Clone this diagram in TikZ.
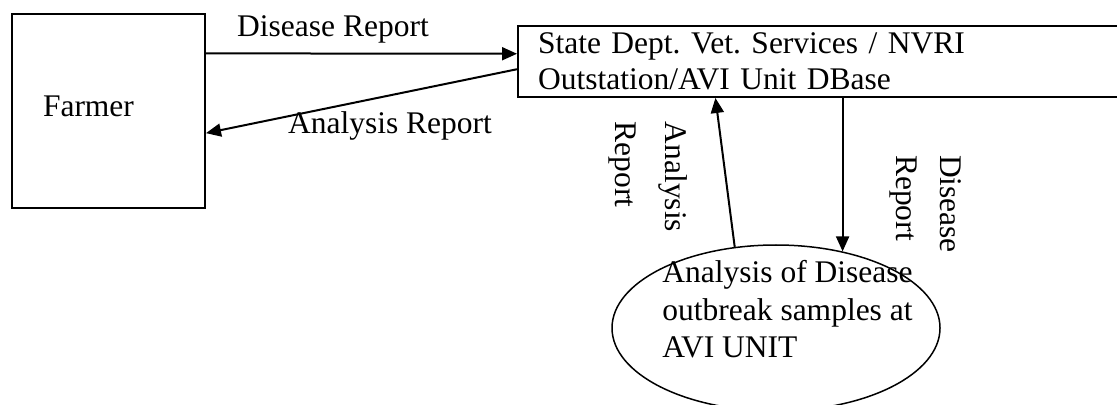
\documentclass[tikz,border=0pt]{standalone}
\usepackage{fontspec}
\setmainfont{Liberation Serif}
\frenchspacing
\usetikzlibrary{arrows.meta, positioning, shapes.geometric, calc}

\begin{document}
\begin{tikzpicture}[x=0.5pt, y=-0.5pt,
    every node/.style={font=\fontsize{15.75}{18}\selectfont},
    box/.style={draw, line width=1pt, rectangle},
    flow/.style={-{Triangle[length=7.5pt, width=6.5pt]}, line width=1pt}]
  \useasboundingbox (0,0) rectangle (1117,405);

  % Entities
  \node[box, anchor=north west, minimum height=97pt, text width=65.5pt,
        inner xsep=15.5pt, text depth=5pt, align=left] (farmer) at (11,13) {Farmer};
  \node[box, anchor=north west, minimum height=35.5pt, text width=290pt,
        inner xsep=10pt, inner ysep=0pt, align=left] (state) at (517,25)
        {State Dept. Vet. Services / NVRI\\Outstation/AVI Unit DBase};

  % Process
  \node[draw, ellipse, line width=0.75pt, minimum width=164pt,
        minimum height=83pt, inner sep=0pt] (unit) at (776,328) {};
  \node[anchor=north west, align=left, inner sep=0pt,
        font=\fontsize{15.75}{18.75}\selectfont] (unittext) at (662,260)
        {Analysis of Disease\\outbreak samples at\\AVI UNIT};

  % Flows
  \draw[flow] ($(farmer.north east)!0.206!(farmer.south east)$)
           -- ($(state.north west)!0.394!(state.south west)$);
  \draw[flow] ($(state.north west)!0.606!(state.south west)$)
           -- ($(farmer.north east)!0.613!(farmer.south east)$);
  \draw[flow] (unit.117) -- ($(state.south west)!0.319!(state.south east)$);
  \draw[flow] (state.south -| unit.49) -- (unit.49);

  % Labels
  \node (lbldisease) at (333,29.5) {Disease Report};
  \node (lblanalysis) at (390,125.5) {Analysis Report};
  \node[rotate=-90, align=left] (lblanalysisv) at (648,177) {Analysis\\[7pt]Report};
  \node[rotate=-90, align=left] (lbldiseasev) at (926,204) {Disease\\[4pt]Report};
\end{tikzpicture}
\end{document}
